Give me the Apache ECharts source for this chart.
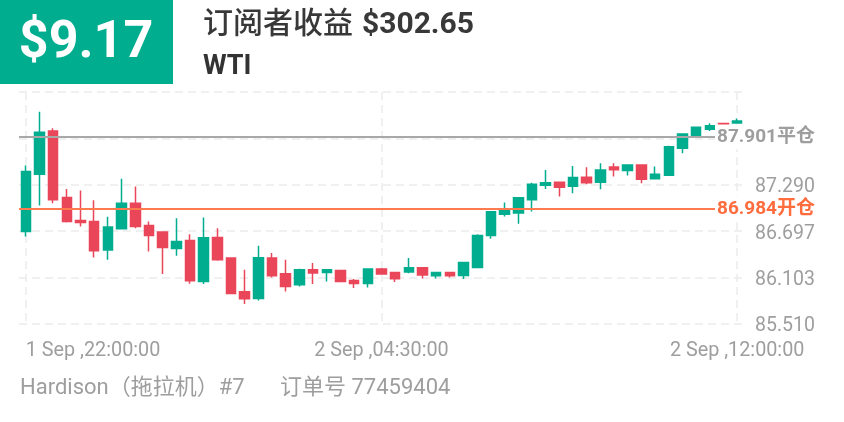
<!DOCTYPE html>
<html>
<head>
<meta charset="utf-8">
<script src="https://cdn.jsdelivr.net/npm/echarts@6/dist/echarts.min.js"></script>
<style>
html,body{margin:0;padding:0;background:#fff;}
#chart{width:844px;height:422px;}
</style>
</head>
<body>
<div id="chart"></div>
<script>
var categories = [
  "1 Sep ,22:00:00","1 Sep ,22:15:00","1 Sep ,22:30:00","1 Sep ,22:45:00","1 Sep ,23:00:00","1 Sep ,23:15:00","1 Sep ,23:30:00","1 Sep ,23:45:00",
  "2 Sep ,00:00:00","2 Sep ,00:15:00","2 Sep ,00:30:00","2 Sep ,00:45:00","2 Sep ,01:00:00","2 Sep ,01:15:00","2 Sep ,01:30:00","2 Sep ,01:45:00",
  "2 Sep ,02:00:00","2 Sep ,02:15:00","2 Sep ,02:30:00","2 Sep ,02:45:00","2 Sep ,03:00:00","2 Sep ,03:15:00","2 Sep ,03:30:00","2 Sep ,03:45:00",
  "2 Sep ,04:00:00","2 Sep ,04:15:00","2 Sep ,04:30:00","2 Sep ,04:45:00","2 Sep ,05:00:00","2 Sep ,05:15:00","2 Sep ,05:30:00","2 Sep ,05:45:00",
  "2 Sep ,06:00:00","2 Sep ,06:15:00","2 Sep ,06:30:00","2 Sep ,06:45:00","2 Sep ,08:00:00","2 Sep ,08:15:00","2 Sep ,08:30:00","2 Sep ,08:45:00",
  "2 Sep ,09:00:00","2 Sep ,09:15:00","2 Sep ,09:30:00","2 Sep ,09:45:00","2 Sep ,10:00:00","2 Sep ,10:15:00","2 Sep ,10:30:00","2 Sep ,10:45:00",
  "2 Sep ,11:00:00","2 Sep ,11:15:00","2 Sep ,11:30:00","2 Sep ,11:45:00","2 Sep ,12:00:00"
];
var opens  = [86.693,87.426,87.979,87.127,86.833,86.820,86.455,86.727,87.055,86.769,86.685,86.476,86.578,86.054,86.616,86.353,85.923,85.837,86.353,86.152,86.012,86.203,86.169,86.195,86.067,86.029,86.212,86.169,86.174,86.229,86.127,86.169,86.131,86.233,86.642,86.915,86.928,87.098,87.285,87.324,87.272,87.387,87.324,87.519,87.472,87.545,87.366,87.413,87.758,87.919,88.000,88.075,88.081];
var closes = [87.459,87.962,87.098,86.820,86.808,86.446,86.749,87.055,86.757,86.642,86.488,86.565,86.063,86.612,86.331,85.901,85.833,86.357,86.127,85.990,86.203,86.161,86.203,86.054,86.029,86.212,86.149,86.089,86.229,86.136,86.169,86.127,86.297,86.642,86.944,86.979,87.123,87.298,87.318,87.260,87.382,87.318,87.481,87.484,87.545,87.362,87.426,87.778,87.940,88.026,88.046,88.065,88.106];
var lows   = [86.629,87.025,87.055,86.808,86.757,86.361,86.331,86.720,86.736,86.437,86.149,86.382,86.025,86.021,86.318,85.895,85.765,85.811,86.105,85.926,85.990,86.021,86.054,86.054,85.970,85.977,86.145,86.046,86.160,86.092,86.092,86.105,86.085,86.230,86.599,86.884,86.791,86.948,87.238,87.140,87.183,87.298,87.234,87.395,87.408,87.311,87.360,87.405,87.694,87.910,87.979,88.060,88.078];
var highs  = [87.536,88.225,88.013,87.238,87.216,87.094,86.880,87.366,87.267,86.820,86.690,86.864,86.659,86.871,86.736,86.360,86.203,86.510,86.417,86.331,86.216,86.289,86.212,86.203,86.085,86.215,86.225,86.172,86.353,86.232,86.172,86.172,86.300,86.659,86.947,87.063,87.132,87.318,87.481,87.330,87.532,87.515,87.566,87.566,87.550,87.550,87.523,87.790,87.949,88.030,88.077,88.080,88.138];
var xLabelIndices = [0, 26, 52];
var yMin = 85.510, yMax = 88.477, yStep = 0.5934;
var yLabelLimit = 87.5;
var closePrice = 87.901, closeLabel = "平仓";
var openPrice = 86.984, openLabel = "开仓";
var profitText = "$9.17";
var subscriberLabel = "订阅者收益";
var subscriberValue = "$302.65";
var symbolName = "WTI";
var footerLeft = "Hardison（拖拉机）#7";
var footerRight = "订单号 77459404";

var GREEN = '#00ad8e', RED = '#ea4659';
var FONT = 'Roboto, "Noto Sans CJK SC", sans-serif';

var ohlc = opens.map(function (o, i) { return [o, closes[i], lows[i], highs[i]]; });

var chart = echarts.init(document.getElementById('chart'), null, {renderer: 'canvas'});
chart.setOption({
  animation: false,
  backgroundColor: '#fff',
  textStyle: {fontFamily: FONT},
  grid: {left: 19, right: 100, top: 92, bottom: 98, outerBoundsMode: 'none', containLabel: false},
  xAxis: {
    type: 'category',
    data: categories,
    boundaryGap: true,
    axisLine: {show: false},
    axisTick: {show: false},
    axisLabel: {
      interval: function (idx) { return xLabelIndices.indexOf(idx) >= 0; },
      color: '#9e9e9e', fontSize: 19.8, fontFamily: FONT, margin: 17,
      alignMinLabel: 'left', alignMaxLabel: 'center',
      showMinLabel: true, showMaxLabel: true, hideOverlap: false
    },
    splitLine: {
      show: true, alignWithLabel: true,
      interval: function (idx) { return xLabelIndices.indexOf(idx) >= 0; },
      lineStyle: {color: '#ececec', width: 1.5, type: [8, 5]}
    }
  },
  yAxis: {
    type: 'value', position: 'right', scale: true,
    min: yMin, max: yMax, interval: yStep,
    axisLine: {show: false}, axisTick: {show: false},
    axisLabel: {
      color: '#9e9e9e', fontSize: 19.5, fontFamily: FONT, margin: 11,
      formatter: function (v) { return v < yLabelLimit ? '{v|' + v.toFixed(3) + '}' : ''; },
      rich: {v: {color: '#9e9e9e', fontSize: 19.5, fontFamily: FONT, padding: [5, 0, 0, 0]}}
    },
    splitLine: {show: true, lineStyle: {color: '#ececec', width: 1.5, type: [8, 5]}}
  },
  series: [{
    type: 'candlestick',
    data: ohlc,
    barWidth: 10,
    itemStyle: {color: GREEN, color0: RED, borderColor: GREEN, borderColor0: RED, borderWidth: 1.5},
    markLine: {
      symbol: ['none', 'none'],
      silent: true,
      animation: false,
      data: [
        {yAxis: closePrice, lineStyle: {color: '#a8a8a8', width: 2, type: 'solid'},
         label: {formatter: closePrice.toFixed(3) + closeLabel, color: '#9e9e9e'}},
        {yAxis: openPrice, lineStyle: {color: '#ff7b4f', width: 2, type: 'solid'},
         label: {formatter: openPrice.toFixed(3) + openLabel, color: '#ff6d3f'}}
      ],
      label: {
        show: true, position: 'end', distance: -29,
        fontSize: 19, fontWeight: 'bold', fontFamily: FONT,
        backgroundColor: '#fff', padding: [3, 0, 3, 2]
      }
    }
  }],
  graphic: [
    {type: 'rect', shape: {x: 0, y: 0, width: 173, height: 84}, style: {fill: GREEN}},
    {type: 'text', x: 86, y: 44, style: {text: profitText, fill: '#fff', font: 'bold 52px ' + FONT, textAlign: 'center', textVerticalAlign: 'middle'}},
    {type: 'text', x: 203, y: 25, style: {
      text: '{a|' + subscriberLabel + '}{s| }{b|' + subscriberValue + '}',
      textVerticalAlign: 'middle',
      rich: {
        a: {fontSize: 30, fontWeight: 500, fill: '#383838', fontFamily: FONT},
        s: {fontSize: 30, width: 9},
        b: {fontSize: 30, fontWeight: 'bold', fill: '#383838', fontFamily: FONT}
      }
    }},
    {type: 'text', x: 203, y: 67, style: {text: symbolName, fill: '#333', font: 'bold 27px ' + FONT, textVerticalAlign: 'middle'}},
    {type: 'text', x: 20, y: 388, style: {text: footerLeft, fill: '#9e9e9e', font: '22px ' + FONT, textVerticalAlign: 'middle'}},
    {type: 'text', x: 280, y: 388, style: {text: footerRight, fill: '#9e9e9e', font: '22px ' + FONT, textVerticalAlign: 'middle'}}
  ]
});
</script>
</body>
</html>
